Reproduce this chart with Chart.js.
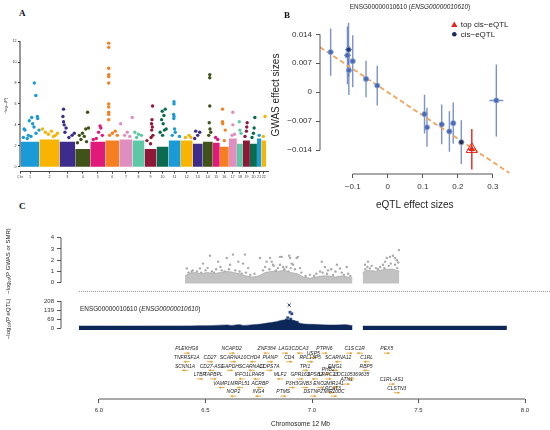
<!DOCTYPE html>
<html>
<head>
<meta charset="utf-8">
<script src="https://cdn.jsdelivr.net/npm/chart.js@4.4.1/dist/chart.umd.min.js"></script>
<style>
  html, body { margin: 0; padding: 0; background: #fff; }
  #page { position: relative; width: 550px; height: 430px; overflow: hidden; font-family: "Liberation Sans", Arial, sans-serif; }
  .box { position: absolute; }
  .txt { position: absolute; white-space: nowrap; color: #222; }
  .tag { position: absolute; font-family: "Liberation Serif", serif; font-weight: bold; font-size: 9px; color: #111; }
</style>
</head>
<body>
<div id="page">
  <div class="box" style="left:0;top:30px;width:272px;height:160px"><canvas id="manhattan"></canvas></div>
  <div class="box" style="left:270px;top:0;width:280px;height:215px"><canvas id="smr"></canvas></div>
  <div class="box" style="left:0;top:220px;width:550px;height:75px"><canvas id="gwas"></canvas></div>
  <div class="box" style="left:0;top:292px;width:550px;height:60px"><canvas id="eqtl"></canvas></div>
  <div class="box" style="left:0;top:335px;width:550px;height:95px"><canvas id="genes"></canvas></div>

  <div class="tag" style="left:19px;top:8px">A</div>
  <div class="tag" style="left:284px;top:10px">B</div>
  <div class="tag" style="left:19px;top:201px">C</div>
  <div class="txt" style="left:410px;top:3px;font-size:6.4px;transform:translateX(-50%)">ENSG00000010610 (<i>ENSG00000010610</i>)</div>
  <div class="txt" style="left:80px;top:304.5px;font-size:6.4px">ENSG00000010610 (<i>ENSG00000010610</i>)</div>
  <div class="box" style="left:79px;top:291px;width:471px;border-top:1px dotted #9a9a9a"></div>
</div>
<script>
// ---- A: genome-wide manhattan ----
const chrNames = ['1','2','3','4','5','6','7','8','9','10','11','12','13','14','15','16','17','18','19','20','21','22'];
const chrSnps = [186, 200, 157, 150, 150, 140, 130, 120, 120, 120, 120, 120, 100, 100, 70, 90, 80, 60, 70, 70, 45, 45]; // thousands
const chrBlockTop = [2.4, 2.6, 2.4, 1.7, 2.4, 2.5, 2.6, 2.5, 1.7, 1.9, 2.5, 2.5, 2.2, 2.4, 2.3, 1.9, 2.7, 2.2, 2.5, 2.2, 2.7, 2.5];
const hitChr = [1,1,1,1,1,1,1,1,1,1,1,1,1,1,1,1,
  2,2,2,2,2,2,2,
  3,3,3,3,3,3,3,3,3,
  4,4,4,4,4,4,4,4,4,
  5,5,5,5,5,5,
  6,6,6,6,6,6,6,6,6,6,6,6,6,6,6,
  7,7,7,7,7,
  8,8,8,8,
  9,9,9,9,9,9,9,9,9,
  10,10,10,10,10,10,10,10,10,
  11,11,11,11,11,11,11,11,11,
  12,12,12,
  13,13,13,13,
  14,14,14,14,14,14,14,
  15,15,
  16,16,16,16,16,
  17,17,17,17,
  18,18,18,
  19,19,19,19,
  20,20,20,20,
  21,
  22,22];
const hitFrac = [.18,.23,.46,.59,.64,.71,.73,.81,.89,.91,.98,.14,.41,.82,.35,.55,
  .15,.3,.45,.6,.8,.9,.7,
  .26,.22,.26,.3,.42,.94,.8,.35,.6,
  .82,.7,.48,.27,.88,.38,.6,.15,.75,
  .65,.7,.55,.8,.4,.2,
  .24,.24,.24,.24,.24,.24,.24,.24,.24,.24,.24,.7,.5,.85,.3,
  .1,.6,.98,.4,.8,
  .2,.5,.75,.35,
  .67,.62,.58,.65,.6,.2,.7,.55,.5,
  .72,.47,.61,.42,.55,.65,.3,.8,.5,
  .45,.45,.42,.45,.43,.5,.55,.9,.3,
  .7,.85,.4,
  .3,.7,.5,.2,
  .7,.7,.7,.65,.72,.8,.6,
  .4,.7,
  .3,.3,.32,.6,.5,
  .5,.5,.4,.7,
  .4,.5,.7,
  .6,.55,.5,.3,
  .7,.6,.5,.3,
  .5,
  .8,.4];
const hitLogP = [3.6,3.5,4.4,4.7,4.1,3.8,8.0,6.8,4.8,4.6,3.5,2.8,3.0,3.2,2.7,2.9,
  3.6,3.3,3.1,3.4,3.0,3.2,2.9,
  5.5,4.8,4.3,4.0,3.7,3.2,3.0,3.3,2.8,
  5.2,3.6,3.2,3.0,3.7,2.6,2.9,2.3,2.4,
  3.9,3.7,3.3,3.0,2.7,2.6,
  11.8,11.4,9.4,8.8,8.6,8.0,6.0,5.7,5.2,5.0,4.5,3.4,3.2,3.0,3.0,
  4.1,3.3,4.7,3.0,2.9,
  3.3,3.1,3.0,2.8,
  5.8,4.5,4.1,3.8,3.5,2.5,3.0,2.8,2.2,
  5.5,5.3,4.9,4.5,4.1,3.5,3.3,3.6,3.0,
  6.2,6.0,5.0,4.8,4.6,3.6,3.3,2.9,3.0,
  3.0,2.8,2.8,
  3.4,3.3,3.0,2.7,
  8.8,8.5,5.8,4.2,3.6,3.3,3.0,
  2.8,2.6,
  5.5,4.3,4.1,3.5,2.5,
  5.2,4.0,3.0,3.1,
  4.3,3.5,3.2,
  4.2,3.8,3.4,2.9,
  4.7,3.7,3.2,2.8,
  3.0,
  4.8,2.9];
const manTicks = [0, 2, 4, 6, 8, 10, 12];

// ---- B: SMR effect plot ----
const eqtlBeta = [-0.163, -0.112, -0.115, -0.111, -0.100, -0.062, -0.030, 0.105, 0.112, 0.154, 0.176, 0.187, 0.210];
const gwasBeta = [0.0097, 0.0103, 0.0089, 0.0053, 0.0075, 0.0032, 0.0016, -0.0053, -0.0085, -0.0078, -0.0095, -0.0075, -0.0121];
const eqtlSe = [0.005, 0.010, 0.010, 0.006, 0.005, 0.005, 0.004, 0.004, 0.004, 0.004, 0.004, 0.004, 0.005];
const gwasSe = [0.0057, 0.0065, 0.0070, 0.0060, 0.0063, 0.0044, 0.0048, 0.0047, 0.0047, 0.0048, 0.0049, 0.0050, 0.0053];
const extraBeta = [0.310], extraGwas = [-0.0020], extraSe = [0.020], extraGwasSe = [0.0087];
const topEqtlBeta = [0.240], topGwasBeta = [-0.0138], topEqtlSe = [0.012], topGwasSe = [0.0049];
const smrSlope = -0.0563;
const bYTicks = [-0.014, -0.007, 0, 0.007, 0.014];
const bYLabels = ['\u22120.014', '\u22120.007', '0', '0.007', '0.014'];
const bXTicks = [-0.1, 0, 0.1, 0.2, 0.3];
const bXLabels = ['\u22120.1', '0', '0.1', '0.2', '0.3'];

// ---- C: regional plots (Mb on chr12) ----
const gwasPtMb = [6.412,6.435,6.474,6.488,6.521,6.559,6.576,6.600,6.615,6.629,6.654,6.676,6.685,6.700,6.756,6.787,6.803,6.811,6.817,6.840,
  6.850,6.858,6.864,6.893,6.897,6.905,6.911,6.928,6.934,6.944,7.038,7.046,7.061,7.075,7.099,7.117,7.131,7.163,
  6.42,6.44,6.45,6.46,6.48,6.50,6.51,6.53,6.54,6.55,6.57,6.59,6.61,6.62,6.64,6.66,6.67,6.69,6.71,6.73,6.77,6.78,
  6.80,6.82,6.83,6.85,6.87,6.88,6.89,6.90,6.92,6.95,6.97,6.99,7.01,7.02,7.05,7.07,7.09,7.11,7.14,7.15,7.17,7.18,
  7.249,7.263,7.272,7.286,7.319,7.333,7.343,7.351,7.366,7.380,7.390,7.398,7.408,7.25,7.26,7.28,7.30,7.31,7.32,7.34,7.36,7.37,7.39,7.40,7.405];
const gwasPtLogP = [1.27,0.98,1.27,1.7,2.4,1.87,1.1,2.2,1.6,2.5,1.87,1.7,2.5,1.3,2.2,1.87,2.2,1.87,1.6,1.3,
  2.3,2.3,1.4,2.4,2.2,1.7,1.6,2.2,2.3,1.3,1.0,1.87,1.4,1.1,0.7,1.6,1.27,1.4,
  0.9,1.1,0.8,1.0,0.9,1.1,1.3,1.0,0.9,1.2,1.4,1.0,1.2,0.9,1.1,1.0,0.8,0.9,0.7,0.8,1.1,1.4,
  1.2,1.5,1.1,1.6,1.2,1.4,1.0,1.3,1.2,0.9,0.6,0.7,0.6,0.8,0.9,0.8,1.2,1.0,0.9,0.7,0.8,0.6,
  1.6,1.87,1.27,1.0,1.0,1.6,1.87,2.2,2.3,2.4,2.2,2.0,2.9,1.2,1.4,1.5,1.3,1.2,1.4,1.3,1.5,1.7,1.6,1.3,1.8];
const gwasBandMb1 = [6.404,6.42,6.45,6.48,6.51,6.54,6.57,6.60,6.63,6.66,6.69,6.72,6.75,6.78,6.81,6.84,6.87,6.90,6.93,6.96,6.99,7.02,7.05,7.08,7.11,7.14,7.17,7.19];
const gwasBandTop1 = [0.6,0.8,0.9,0.8,0.9,0.8,0.9,1.0,0.9,0.8,0.6,0.5,0.6,0.9,1.0,1.0,1.1,0.9,0.8,0.5,0.4,0.5,0.6,0.6,0.5,0.6,0.5,0.4];
const gwasBandMb2 = [7.238,7.26,7.29,7.32,7.35,7.38,7.41];
const gwasBandTop2 = [0.9,1.1,1.0,1.1,1.2,1.2,1.0];
const gwasTicks = [0, 1, 2, 3, 4];

const eqtlBandMb1 = [5.906,6.2,6.5,6.6,6.62,6.66,6.68,6.74,6.76,6.79,6.83,6.86,6.91,6.94,6.97,7.02,7.10,7.16,7.19];
const eqtlBandTop1 = [18,18,20,26,22,28,22,30,32,40,50,62,62,40,32,30,25,28,20];
const eqtlBandMb2 = [7.238, 7.915];
const eqtlBandTop2 = [17, 17];
const eqtlPeakMb = [6.897, 6.905, 6.886, 6.880, 6.874, 6.916, 6.930, 6.870, 6.900];
const eqtlPeakLogP = [122, 111, 80, 63, 46, 50, 46, 33, 70];
const eqtlTopMb = [6.893], eqtlTopLogP = [177];
const eqtlTicks = [0, 69, 139, 208];

const geneName = ['PLEKHG6','NCAPD2','ZNF384','LAG3','CDCA3','PTPN6','C1S','C1R','PEX5','USP5',
  'TNFRSF1A','CD27','SCARNA10','CHD4','PIANP','CD4','RPL13P5','SCARNA12','C1RL',
  'SCNN1A','CD27-AS1','GAPDH','SCARNA11','COPS7A','TPI1','EMG1','RBP5','PHB2',
  'LTBR','TAPBPL','IFFO1','LPAR5','MLF2','GPR162','SPSB2','LRRC23','LOC105369635','C1RL-AS1','ATN1',
  'VAMP1','MRPL51','ACRBP','P3H3','GNB3','ENO2','MIR141','LPCAT3','CLSTN3',
  'NOP2','ING4','PTMS','DSTNP2','MIR200C'];
const geneMb = [6.412,6.623,6.787,6.873,6.944,7.058,7.175,7.225,7.351,7.006,
  6.412,6.521,6.629,6.724,6.803,6.893,6.991,7.123,7.257,
  6.404,6.529,6.615,6.717,6.800,6.967,7.108,7.254,7.076,
  6.474,6.537,6.670,6.740,6.850,6.944,7.014,7.077,7.186,7.374,7.163,
  6.576,6.662,6.756,6.905,6.967,7.038,7.108,7.092,7.398,
  6.631,6.748,6.865,7.006,7.103];
const geneRow = [1,1,1,1,1,1,1,1,1,1.5,
  2,2,2,2,2,2,2,2,2,
  3,3,3,3,3,3,3,3,3.45,
  4,4,4,4,4,4,4,4,4,4.6,4.6,
  5,5,5,5,5,5,5,5.6,5.6,
  6,6,6,6,6];
const geneStrand = [1,1,-1,1,-1,1,1,-1,1,1,
  -1,1,1,-1,1,1,1,-1,-1,
  -1,-1,1,-1,1,1,1,-1,-1,
  1,1,-1,-1,-1,1,-1,1,-1,1,1,
  -1,-1,-1,1,1,1,1,-1,1,
  -1,-1,1,1,1];
const mbTicks = [6.0, 6.5, 7.0, 7.5, 8.0];

// ------------------------------------------------------------
const FONT = "'Liberation Sans', Arial, sans-serif";
Chart.defaults.font.family = FONT;
Chart.defaults.color = '#333';
Chart.defaults.animation = false;
Chart.defaults.plugins.legend.display = false;
Chart.defaults.plugins.tooltip.enabled = false;

const chrColors = ['#1a9ad6', '#f8b400', '#3d2b8e', '#3f5217', '#e0197a', '#f57e20', '#e08ec0', '#5cc8a5', '#8e1838', '#0a6b4e'];

// draw R-style axis line only over the tick range
const rAxisLines = {
  id: 'rAxisLines',
  afterDraw(chart) {
    const ctx = chart.ctx;
    Object.values(chart.scales).forEach(s => {
      if (!s.options.display || !s.options.rLine || !s.ticks.length) return;
      const a = s.getPixelForValue(s.ticks[0].value);
      const b = s.getPixelForValue(s.ticks[s.ticks.length - 1].value);
      ctx.save();
      ctx.strokeStyle = s.options.rLine;
      ctx.lineWidth = 1;
      ctx.beginPath();
      if (s.isHorizontal()) { ctx.moveTo(a, s.top); ctx.lineTo(b, s.top); }
      else { ctx.moveTo(s.right, a); ctx.lineTo(s.right, b); }
      ctx.stroke();
      ctx.restore();
    });
  }
};
Chart.register(rAxisLines);

const fixW = w => s => { s.width = w; };
const fixH = h => s => { s.height = h; };
const setTicks = vals => s => { s.ticks = vals.map(v => ({ value: v })); };
const tickGrid = { display: true, drawOnChartArea: false, drawTicks: true, tickLength: 4, color: '#555' };

// ---------------- A ----------------
let acc = 0;
const chrStart = chrSnps.map(n => { const s = acc; acc += n; return s; });
const genomeEnd = acc;
const chrMid = chrStart.map((s, i) => s + chrSnps[i] / 2);
const manMin = -7;

const blockSets = chrNames.map((c, i) => ({
  type: 'line',
  data: [
    { x: chrStart[i], y: 0 }, { x: chrStart[i], y: chrBlockTop[i] },
    { x: chrStart[i] + chrSnps[i], y: chrBlockTop[i] }, { x: chrStart[i] + chrSnps[i], y: 0 }
  ],
  backgroundColor: chrColors[i % 10],
  borderWidth: 0, pointRadius: 0, fill: 'origin', tension: 0
}));
const hitSet = {
  type: 'scatter',
  data: hitChr.map((c, i) => ({ x: chrStart[c - 1] + hitFrac[i] * chrSnps[c - 1], y: hitLogP[i] })),
  backgroundColor: hitChr.map(c => chrColors[(c - 1) % 10]),
  borderWidth: 0, pointRadius: 1.7
};

new Chart(document.getElementById('manhattan'), {
  type: 'scatter',
  data: { datasets: blockSets.concat([hitSet]) },
  options: {
    responsive: true, maintainAspectRatio: false,
    layout: { padding: { top: 10, right: 4, bottom: 0, left: 0 } },
    scales: {
      x: {
        type: 'linear', min: manMin, max: genomeEnd + 20,
        afterFit: fixH(18.3),
        afterBuildTicks: setTicks([manMin].concat(chrMid)),
        ticks: { autoSkip: false, maxRotation: 0, padding: 1, font: { size: 3.6 },
          callback: (v, i) => i === 0 ? 'Chr' : chrNames[i - 1] },
        grid: { display: true, drawOnChartArea: false, drawTicks: true, tickLength: 2, color: '#444' },
        border: { display: true, color: '#444', width: 1 }
      },
      y: {
        min: -0.47, max: 12.1,
        afterFit: fixW(20),
        afterBuildTicks: setTicks(manTicks),
        rLine: '#333',
        ticks: { padding: 1.5, font: { size: 3.6 }, autoSkip: false },
        grid: { display: true, drawOnChartArea: false, drawTicks: true, tickLength: 2, color: '#333' },
        border: { display: false },
        title: { display: true, text: '\u2212log\u2081\u2080(P)', font: { size: 4 }, padding: { top: 3, bottom: 0 } }
      }
    }
  }
});

// ---------------- B ----------------
const bXMin = -0.1934, bXMax = 0.3476;
const errorBars = {
  id: 'errorBars',
  beforeDatasetsDraw(chart) {
    const { ctx, scales: { x, y } } = chart;
    chart.data.datasets.forEach(ds => {
      if (!ds.errY) return;
      ctx.save();
      ctx.strokeStyle = ds.errColor;
      ctx.lineWidth = 1.4;
      ds.data.forEach((p, i) => {
        const px = x.getPixelForValue(p.x), py = y.getPixelForValue(p.y);
        ctx.beginPath();
        ctx.moveTo(px, y.getPixelForValue(p.y - ds.errY[i]));
        ctx.lineTo(px, y.getPixelForValue(p.y + ds.errY[i]));
        ctx.moveTo(x.getPixelForValue(p.x - ds.errX[i]), py);
        ctx.lineTo(x.getPixelForValue(p.x + ds.errX[i]), py);
        ctx.stroke();
      });
      ctx.restore();
    });
  }
};
const smrLegend = {
  id: 'smrLegend',
  afterDraw(chart) {
    const { ctx, chartArea } = chart;
    const x = chartArea.right - 55.2, y1 = chartArea.top + 9, y2 = chartArea.top + 18.3;
    ctx.save();
    ctx.fillStyle = '#e4261d';
    ctx.beginPath(); ctx.moveTo(x, y1 - 3.6); ctx.lineTo(x + 3.2, y1 + 2); ctx.lineTo(x - 3.2, y1 + 2); ctx.closePath(); ctx.fill();
    ctx.fillStyle = '#1b2a5e';
    ctx.beginPath(); ctx.arc(x, y2, 2.3, 0, Math.PI * 2); ctx.fill();
    ctx.fillStyle = '#222';
    ctx.font = '8px ' + FONT;
    ctx.textBaseline = 'middle';
    ctx.fillText('top cis\u2212eQTL', x + 6.4, y1);
    ctx.fillText('cis\u2212eQTL', x + 6.4, y2);
    ctx.restore();
  }
};

const cisColors = eqtlBeta.map((b, i) => (i === 1 ? '#1e3a80' : i === 12 ? '#2a3048' : '#4a6ab2'));
new Chart(document.getElementById('smr'), {
  type: 'scatter',
  data: {
    datasets: [
      {
        type: 'line', order: 3,
        data: [{ x: bXMin, y: smrSlope * bXMin }, { x: bXMax, y: smrSlope * bXMax }],
        borderColor: '#f2a45a', borderWidth: 1.8, borderDash: [5, 3], pointRadius: 0, fill: false
      },
      {
        order: 1,
        data: eqtlBeta.map((b, i) => ({ x: b, y: gwasBeta[i] })).concat(extraBeta.map((b, i) => ({ x: b, y: extraGwas[i] }))),
        errX: eqtlSe.concat(extraSe), errY: gwasSe.concat(extraGwasSe), errColor: 'rgba(80,110,185,0.75)',
        backgroundColor: cisColors.concat(['#4a6ab2']), borderColor: '#8ea6dc', borderWidth: 0.8, pointRadius: 2.6
      },
      {
        order: 0,
        data: topEqtlBeta.map((b, i) => ({ x: b, y: topGwasBeta[i] })),
        errX: topEqtlSe, errY: topGwasSe, errColor: '#e4261d',
        pointStyle: 'triangle', backgroundColor: '#e4261d', borderColor: '#e4261d', borderWidth: 0, pointRadius: 3.6
      },
      {
        order: 0,
        data: topEqtlBeta.map((b, i) => ({ x: b, y: topGwasBeta[i] })),
        pointStyle: 'triangle', backgroundColor: 'rgba(0,0,0,0)', borderColor: '#e4261d', borderWidth: 1, pointRadius: 6.5
      }
    ]
  },
  options: {
    responsive: true, maintainAspectRatio: false,
    layout: { padding: { top: 16, right: 40.5, bottom: 0, left: 0 } },
    scales: {
      x: {
        type: 'linear', min: bXMin, max: bXMax,
        afterFit: fixH(41),
        afterBuildTicks: setTicks(bXTicks),
        rLine: '#555',
        ticks: { padding: 4, font: { size: 8 }, maxRotation: 0, autoSkip: false, callback: (v, i) => bXLabels[i] },
        grid: tickGrid, border: { display: false },
        title: { display: true, text: 'eQTL effect sizes', font: { size: 10 }, color: '#222', padding: { top: 0, bottom: 4 } }
      },
      y: {
        min: -0.0198, max: 0.01843,
        afterFit: fixW(50),
        afterBuildTicks: setTicks(bYTicks),
        rLine: '#555',
        ticks: { padding: 4, font: { size: 8 }, autoSkip: false, callback: (v, i) => bYLabels[i] },
        grid: tickGrid, border: { display: false },
        title: { display: true, text: 'GWAS effect sizes', font: { size: 10 }, color: '#222', padding: { top: 0, bottom: 0 } }
      }
    }
  },
  plugins: [errorBars, smrLegend]
});

// ---------------- C ----------------
const cMin = 5.8216, cMax = 8.0704;
const cX = { type: 'linear', min: cMin, max: cMax, display: false };

new Chart(document.getElementById('gwas'), {
  type: 'scatter',
  data: {
    datasets: [
      { type: 'line', data: gwasBandMb1.map((m, i) => ({ x: m, y: gwasBandTop1[i] })), fill: { value: -0.08 },
        backgroundColor: '#c2c2c2', borderColor: '#b4b4b4', borderWidth: 1, pointRadius: 0, tension: 0 },
      { type: 'line', data: gwasBandMb2.map((m, i) => ({ x: m, y: gwasBandTop2[i] })), fill: { value: -0.08 },
        backgroundColor: '#c2c2c2', borderColor: '#b4b4b4', borderWidth: 1, pointRadius: 0, tension: 0 },
      { data: gwasPtMb.map((m, i) => ({ x: m, y: gwasPtLogP[i] })), backgroundColor: '#a9a9a9', borderWidth: 0, pointRadius: 1.2 }
    ]
  },
  options: {
    responsive: true, maintainAspectRatio: false,
    layout: { padding: { top: 17.7, right: 10, bottom: 10.6, left: 0 } },
    scales: {
      x: cX,
      y: {
        min: -0.15, max: 4,
        afterFit: fixW(61),
        afterBuildTicks: setTicks(gwasTicks),
        rLine: '#555',
        ticks: { padding: 3, font: { size: 6 }, autoSkip: false },
        grid: tickGrid, border: { display: false },
        title: { display: true, text: '\u2212log\u2081\u2080(P GWAS or SMR)', font: { size: 6 }, color: '#222', padding: { top: 4.4, bottom: 0 } }
      }
    }
  }
});

new Chart(document.getElementById('eqtl'), {
  type: 'scatter',
  data: {
    datasets: [
      { type: 'line', data: eqtlBandMb1.map((m, i) => ({ x: m, y: eqtlBandTop1[i] })), fill: { value: -12 },
        backgroundColor: '#0e2759', borderColor: '#0e2759', borderWidth: 0.5, pointRadius: 0, tension: 0.3 },
      { type: 'line', data: eqtlBandMb2.map((m, i) => ({ x: m, y: eqtlBandTop2[i] })), fill: { value: -12 },
        backgroundColor: '#0e2759', borderColor: '#0e2759', borderWidth: 0.5, pointRadius: 0 },
      { data: eqtlPeakMb.map((m, i) => ({ x: m, y: eqtlPeakLogP[i] })), pointStyle: 'rect',
        backgroundColor: '#1a3570', borderColor: '#8ea2cc', borderWidth: 0.5, pointRadius: 1.9 },
      { data: eqtlTopMb.map((m, i) => ({ x: m, y: eqtlTopLogP[i] })), pointStyle: 'crossRot',
        borderColor: '#1a3570', borderWidth: 1, pointRadius: 2.2 }
    ]
  },
  options: {
    responsive: true, maintainAspectRatio: false,
    layout: { padding: { top: 9, right: 10, bottom: 22.1, left: 0 } },
    scales: {
      x: cX,
      y: {
        min: -12, max: 208,
        afterFit: fixW(61),
        afterBuildTicks: setTicks(eqtlTicks),
        rLine: '#555',
        ticks: { padding: 3, font: { size: 6 }, autoSkip: false },
        grid: tickGrid, border: { display: false },
        title: { display: true, text: '\u2212log\u2081\u2080(P eQTL)    ', font: { size: 6 }, color: '#222', padding: { top: 4.4, bottom: 0 } }
      }
    }
  }
});

const geneTrack = {
  id: 'geneTrack',
  afterDatasetsDraw(chart) {
    const { ctx, scales: { x, y } } = chart;
    ctx.save();
    ctx.font = 'italic 5px ' + FONT;
    ctx.textAlign = 'center';
    ctx.textBaseline = 'middle';
    geneName.forEach((g, i) => {
      const px = x.getPixelForValue(geneMb[i]);
      const py = y.getPixelForValue(geneRow[i]);
      ctx.fillStyle = '#222';
      ctx.fillText(g, px, py);
      const ay = y.getPixelForValue(geneRow[i] + 0.48);
      const x0 = x.getPixelForValue(geneMb[i] - 0.014), x1 = x.getPixelForValue(geneMb[i] + 0.014);
      const tip = geneStrand[i] > 0 ? x1 : x0, dir = geneStrand[i] > 0 ? -1 : 1;
      ctx.strokeStyle = '#e3a33a';
      ctx.fillStyle = '#e3a33a';
      ctx.lineWidth = 0.9;
      ctx.beginPath(); ctx.moveTo(x0, ay); ctx.lineTo(x1, ay); ctx.stroke();
      ctx.beginPath(); ctx.moveTo(tip, ay); ctx.lineTo(tip + dir * 2.4, ay - 1.4); ctx.lineTo(tip + dir * 2.4, ay + 1.4); ctx.closePath(); ctx.fill();
    });
    ctx.restore();
  }
};

new Chart(document.getElementById('genes'), {
  type: 'scatter',
  data: { datasets: [{ data: [] }] },
  options: {
    responsive: true, maintainAspectRatio: false,
    layout: { padding: { top: 5.4, right: 10, bottom: 0, left: 61 } },
    scales: {
      x: {
        type: 'linear', min: cMin, max: cMax,
        afterFit: fixH(31),
        afterBuildTicks: setTicks(mbTicks),
        rLine: '#555',
        ticks: { padding: 3.5, font: { size: 6 }, maxRotation: 0, autoSkip: false, callback: v => v.toFixed(1) },
        grid: tickGrid, border: { display: false },
        title: { display: true, text: 'Chromosome 12 Mb', font: { size: 6.5 }, color: '#222', padding: { top: 0, bottom: 2 } }
      },
      y: { min: 0, max: 6.81, reverse: true, display: false }
    }
  },
  plugins: [geneTrack]
});
</script>
</body>
</html>
